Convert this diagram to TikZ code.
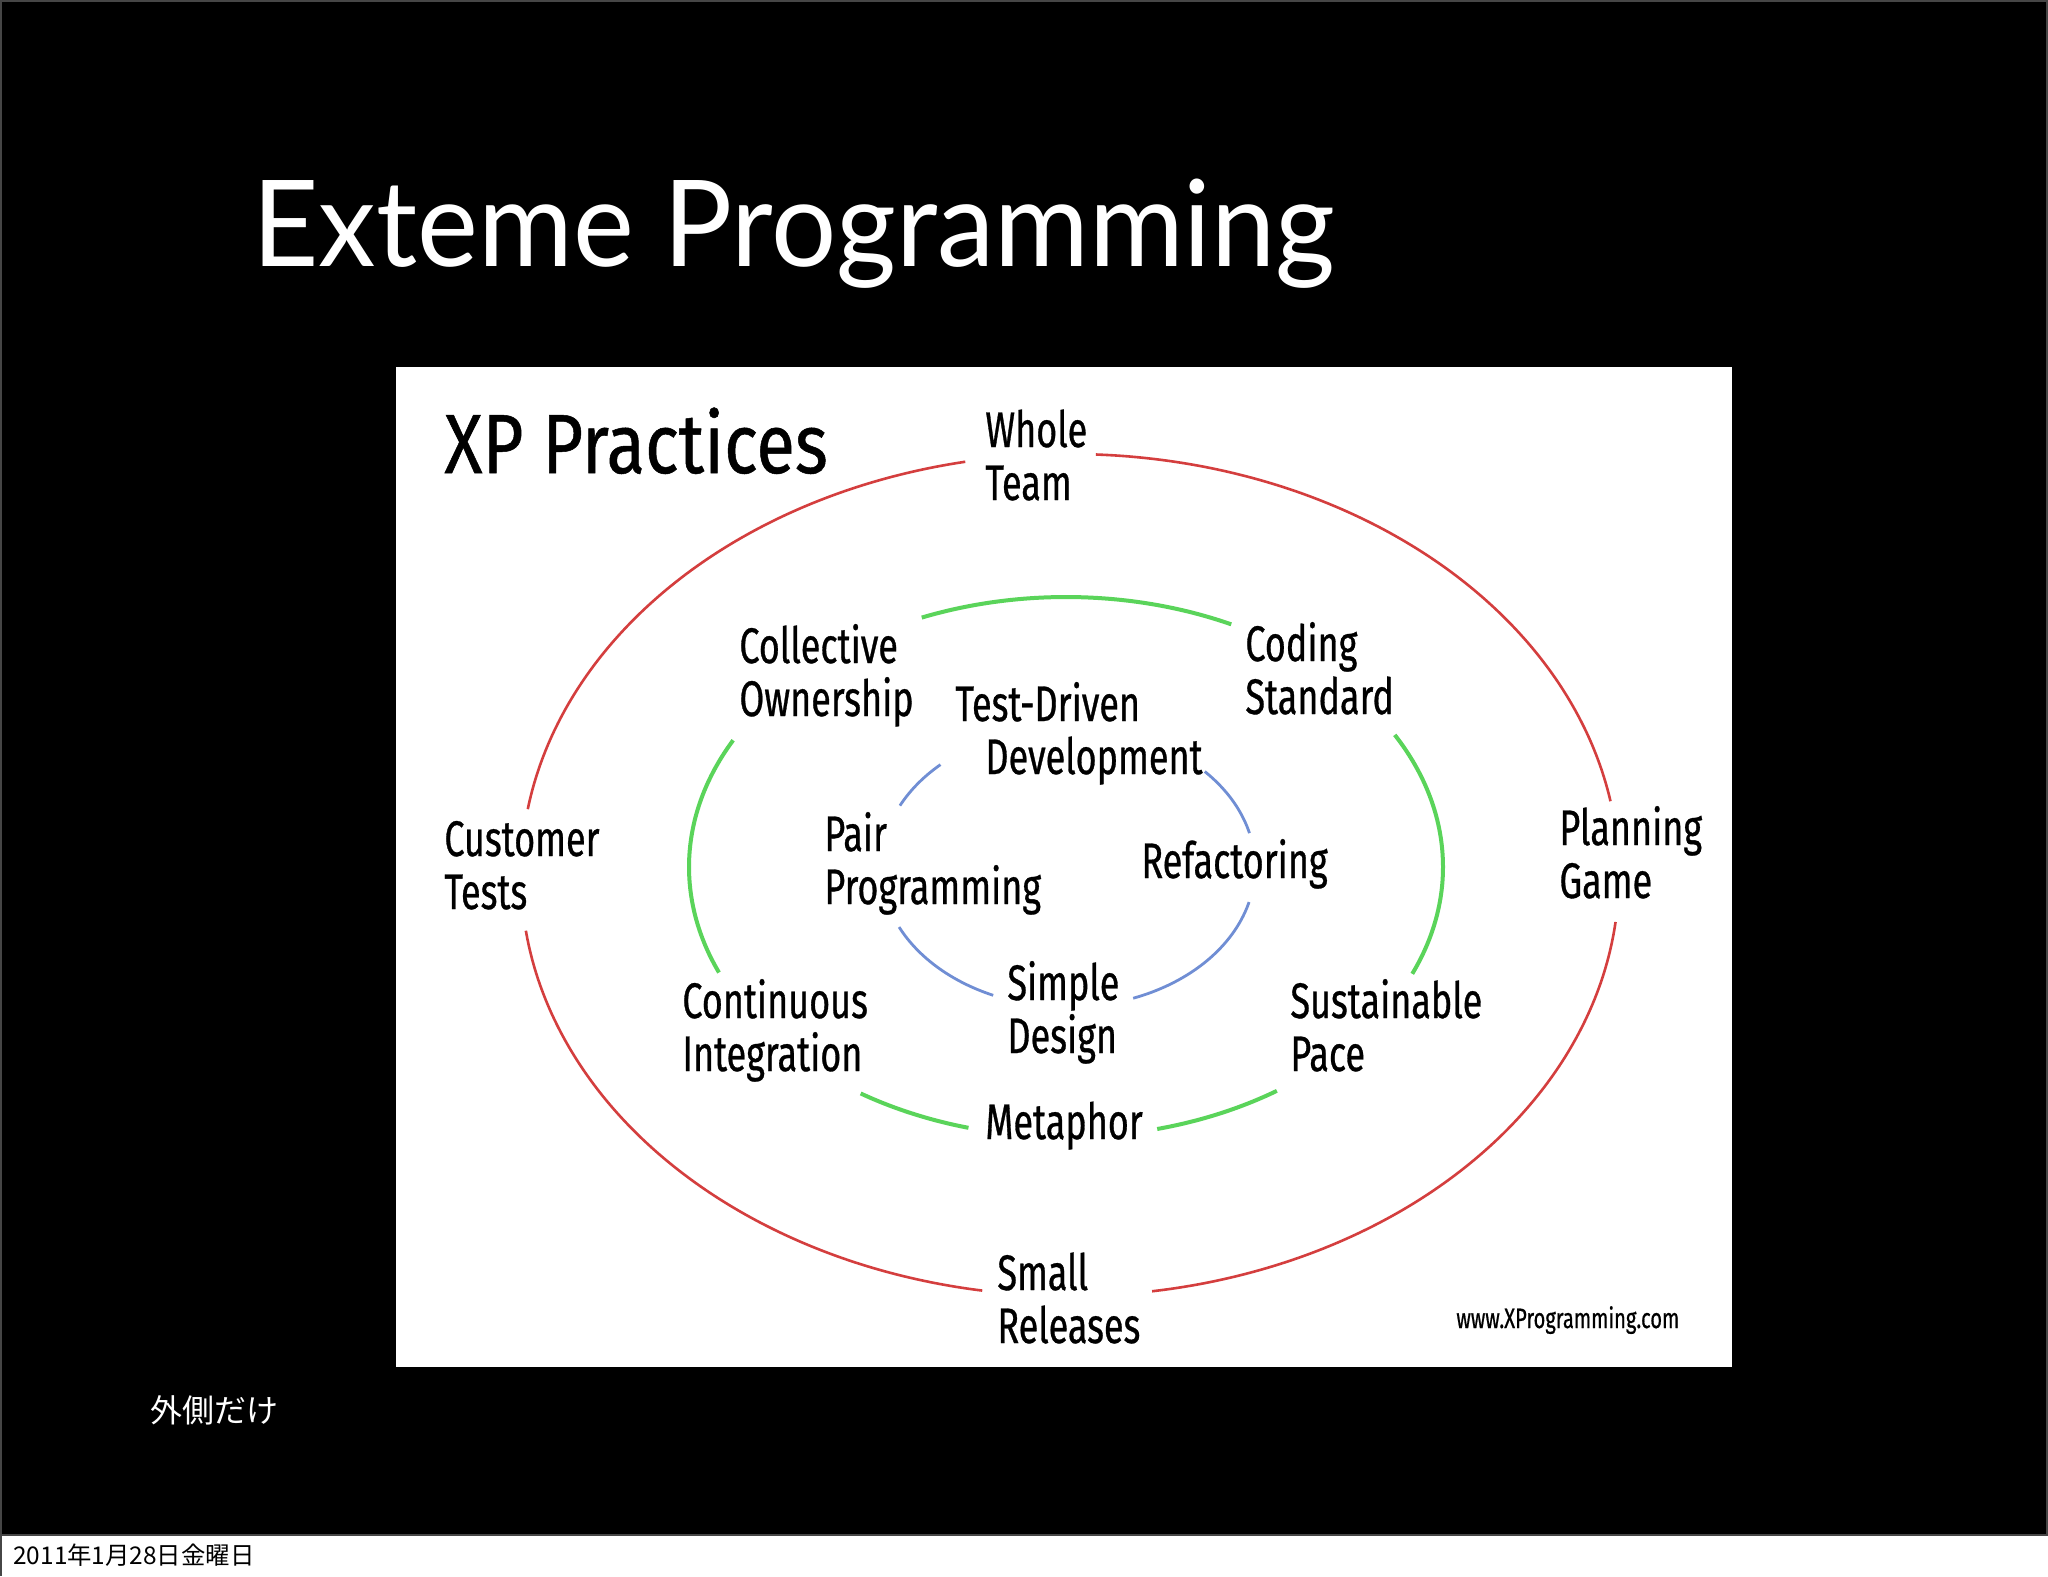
\documentclass[tikz,border=0pt]{standalone}
\usepackage{fontspec}
\newfontfamily\titlefont[FakeStretch=0.96]{Lato}
\newfontfamily\hand[FakeStretch=0.72,FakeBold=0.6]{Fira Sans}
\newfontfamily\handwide[FakeStretch=0.84,FakeBold=0.6]{Fira Sans}
\newfontfamily\cjk{Noto Sans CJK JP}
\definecolor{xpred}{RGB}{212,62,62}
\definecolor{xpgreen}{RGB}{90,212,90}
\definecolor{xpblue}{RGB}{112,142,212}
\definecolor{frame}{RGB}{70,70,70}
\begin{document}
\begin{tikzpicture}[x=0.5pt,y=-0.5pt,
  lbl/.style={anchor=base west, inner sep=0pt, align=left, text=black,
    font=\hand\fontsize{25}{26.5}\selectfont},
  redarc/.style={draw=xpred, line width=1.3pt},
  greenarc/.style={draw=xpgreen, line width=2pt},
  bluearc/.style={draw=xpblue, line width=1.4pt}]
\useasboundingbox (0,0) rectangle (2048,1576);
% slide
\fill[white] (0,0) rectangle (2048,1576);
\fill[black] (0,0) rectangle (2048,1535);
\draw[frame, line width=1pt] (1,1576) -- (1,1) -- (2047,1) -- (2047,1535) -- (0,1535);
% title
\node[anchor=base west, inner sep=0pt, text=white, font=\titlefont\fontsize{60}{60}\selectfont] (title) at (252,266) {Exteme Programming};
% picture panel
\fill[white] (396,367) rectangle (1732,1367);
% outer red ellipse, center (1070,875), radii 549 x 421
\draw[redarc] plot[domain=101:171, samples=70, smooth] ({1070+549*cos(\x)},{875-421*sin(\x)});
\draw[redarc] plot[domain=187.6:260.8, samples=70, smooth] ({1070+549*cos(\x)},{875-421*sin(\x)});
\draw[redarc] plot[domain=-81.4:-6.4, samples=70, smooth] ({1070+549*cos(\x)},{875-421*sin(\x)});
\draw[redarc] plot[domain=10.1:87.3, samples=70, smooth] ({1070+549*cos(\x)},{875-421*sin(\x)});
% middle green ellipse, center (1066,867), radii 377 x 270
\draw[greenarc] plot[domain=64:112.5, samples=50, smooth] ({1066+377*cos(\x)},{867-270*sin(\x)});
\draw[greenarc] plot[domain=152:203, samples=50, smooth] ({1066+377*cos(\x)},{867-270*sin(\x)});
\draw[greenarc] plot[domain=237:255, samples=30, smooth] ({1066+377*cos(\x)},{867-270*sin(\x)});
\draw[greenarc] plot[domain=-76:-56, samples=30, smooth] ({1066+377*cos(\x)},{867-270*sin(\x)});
\draw[greenarc] plot[domain=-23.3:29.3, samples=50, smooth] ({1066+377*cos(\x)},{867-270*sin(\x)});
% inner blue ellipse, center (1068,867), radii 187 x 140
\draw[bluearc] plot[domain=133:154, samples=30, smooth] ({1068+187*cos(\x)},{867-140*sin(\x)});
\draw[bluearc] plot[domain=205.4:246.4, samples=30, smooth] ({1068+187*cos(\x)},{867-140*sin(\x)});
\draw[bluearc] plot[domain=-69.6:-14.5, samples=30, smooth] ({1068+187*cos(\x)},{867-140*sin(\x)});
\draw[bluearc] plot[domain=14:43, samples=30, smooth] ({1068+187*cos(\x)},{867-140*sin(\x)});
% labels (base anchor = baseline of the last line)
\node[anchor=base west, inner sep=0pt, text=black, font=\handwide\fontsize{42}{42}\selectfont] (xp) at (444,473) {XP Practices};
\node[lbl] (whole) at (985,500) {Whole\\Team};
\node[lbl] (collective) at (739,716) {Collective\\Ownership};
\node[lbl] (coding) at (1245,714) {Coding\\Standard};
\node[lbl] (tdd1) at (955,721) {Test-Driven};
\node[lbl] (tdd2) at (985,774) {Development};
\node[lbl] (customer) at (444,909) {Customer\\Tests};
\node[lbl] (pair) at (824,904) {Pair\\Programming};
\node[lbl] (refactoring) at (1141,878) {Refactoring};
\node[lbl] (planning) at (1559,898) {Planning\\Game};
\node[lbl] (simple) at (1007,1053) {Simple\\Design};
\node[lbl] (continuous) at (682,1071) {Continuous\\Integration};
\node[lbl] (sustainable) at (1290,1071) {Sustainable\\Pace};
\node[lbl] (metaphor) at (985,1139) {Metaphor};
\node[lbl] (small) at (997,1343) {Small\\Releases};
\node[anchor=base west, inner sep=0pt, text=black, font=\hand\fontsize{14}{14}\selectfont] (url) at (1456,1328) {www.XProgramming.com};
% notes
\node[anchor=west, inner sep=0pt, text=white, font=\cjk\fontsize{16}{16}\selectfont] (note) at (150,1410) {外側だけ};
\node[anchor=west, inner sep=0pt, text=black, font=\cjk\fontsize{12.2}{12.2}\selectfont] (date) at (13,1555) {2011年1月28日金曜日};
\end{tikzpicture}
\end{document}
